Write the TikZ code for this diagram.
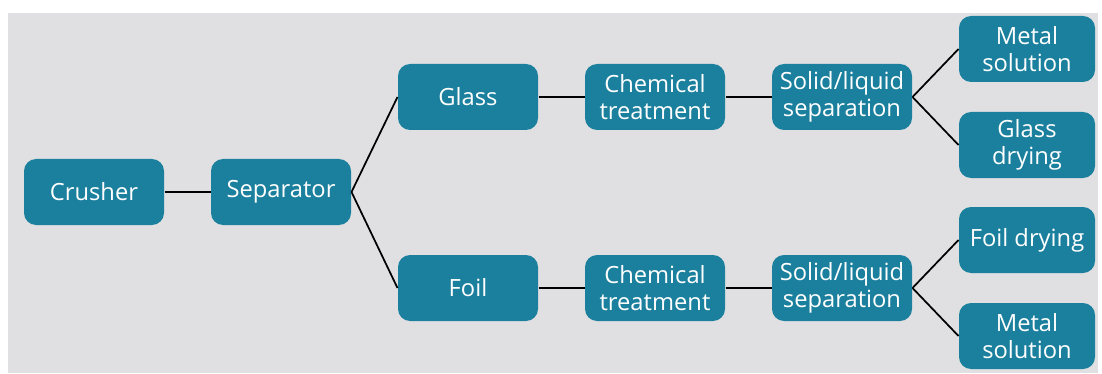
\documentclass[tikz,border=0pt]{standalone}
\usepackage{fontspec}
\setmainfont{Open Sans}

\definecolor{boxteal}{RGB}{27,128,157}
\definecolor{bggray}{RGB}{224,224,226}

\tikzset{every picture/.style={line width=0.75pt}}
\tikzset{
	stepbox/.style={draw=none, fill=boxteal, rounded corners=9pt, minimum width=105pt, minimum height=49.5pt,
		text=white, align=center, font=\fontsize{17.8}{20}\selectfont, inner sep=0pt},
	link/.style={draw=black, line width=1.3pt}
}

\begin{document}
\begin{tikzpicture}[x=0.75pt,y=0.75pt,yscale=-1,xscale=1]
		%page and grey panel
		\useasboundingbox (0,0) rectangle (1102,374);
		\fill[bggray] (8,13) rectangle (1098,373);

		%first two steps
		\node[stepbox] (crusher) at (94,192) {Crusher};
		\node[stepbox] (separator) at (281,192) {Separator};

		%glass branch
		\node[stepbox] (glass) at (468,97) {Glass};
		\node[stepbox] (chemA) at (655,97) {Chemical\\treatment};
		\node[stepbox] (solidA) at (842,97) {Solid/liquid\\separation};
		\node[stepbox, minimum width=102pt] (metalA) at (1027,49) {Metal\\solution};
		\node[stepbox, minimum width=102pt] (glassdry) at (1027,145) {Glass\\drying};

		%foil branch
		\node[stepbox] (foil) at (468,288) {Foil};
		\node[stepbox] (chemB) at (655,288) {Chemical\\treatment};
		\node[stepbox] (solidB) at (842,288) {Solid/liquid\\separation};
		\node[stepbox, minimum width=102pt] (foildry) at (1027,240) {Foil drying};
		\node[stepbox, minimum width=102pt] (metalB) at (1027,336) {Metal\\solution};

		%connectors
		\draw[link] (crusher.east) -- (separator.west);
		\draw[link] (separator.east) -- (glass.west);
		\draw[link] (separator.east) -- (foil.west);
		\draw[link] (glass.east) -- (chemA.west);
		\draw[link] (chemA.east) -- (solidA.west);
		\draw[link] (foil.east) -- (chemB.west);
		\draw[link] (chemB.east) -- (solidB.west);
		\draw[link] (solidA.east) -- (metalA.west);
		\draw[link] (solidA.east) -- (glassdry.west);
		\draw[link] (solidB.east) -- (foildry.west);
		\draw[link] (solidB.east) -- (metalB.west);

\end{tikzpicture}
\end{document}
